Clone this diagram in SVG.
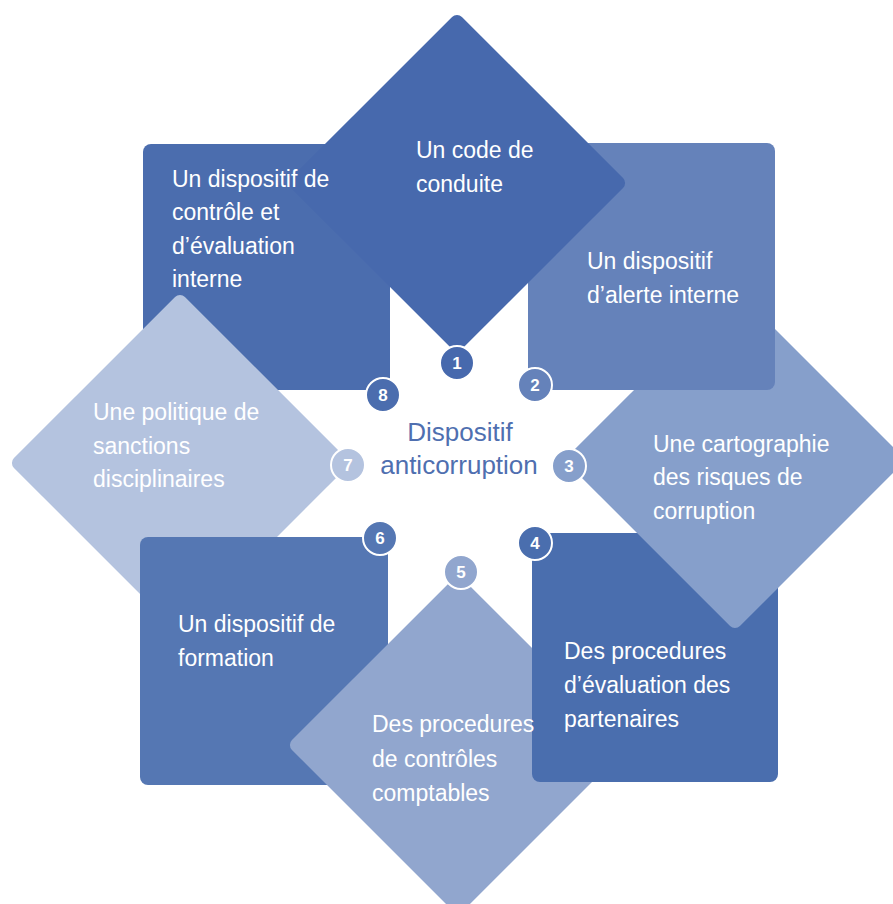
<svg xmlns="http://www.w3.org/2000/svg" width="893" height="904" viewBox="0 0 893 904">
<style>
.lbl{font-family:"Liberation Sans",Arial,sans-serif;font-size:23px;fill:#ffffff}
.ctr{font-family:"Liberation Sans",Arial,sans-serif;font-size:26px;fill:#4f6fb0;text-anchor:middle}
.num{font-family:"Liberation Sans",Arial,sans-serif;font-size:17px;font-weight:bold;fill:#ffffff;text-anchor:middle}
.badge{stroke:#ffffff;stroke-width:2}
</style>
<defs>
<rect id="dia" x="-120.9" y="-120.9" width="241.8" height="241.8" rx="7"/>
</defs>
<rect width="893" height="904" fill="#ffffff"/>
<g id="shapes">
<g id="node-8"><rect x="143" y="144" width="247" height="246" rx="8" fill="#4b6dae"/></g>
<g id="node-7"><use href="#dia" transform="translate(180,463) rotate(45)" fill="#b4c3df"/></g>
<g id="node-6"><rect x="140" y="537" width="248" height="248" rx="8" fill="#5577b3"/></g>
<g id="node-5"><use href="#dia" transform="translate(458,745) rotate(45)" fill="#91a6ce"/></g>
<g id="node-4"><rect x="532" y="533" width="246" height="249" rx="8" fill="#4a6eae"/></g>
<g id="node-3"><use href="#dia" transform="translate(735,460) rotate(45)" fill="#869fcb"/></g>
<g id="node-2"><rect x="528" y="143" width="247" height="247" rx="8" fill="#6582ba"/></g>
<g id="node-1"><use href="#dia" transform="translate(457,183) rotate(45)" fill="#4769ad"/></g>
</g>
<g id="labels">
<g id="label-1"><text class="lbl" x="416" y="158">Un code de</text><text class="lbl" x="416" y="192">conduite</text></g>
<g id="label-2"><text class="lbl" x="587" y="269">Un dispositif</text><text class="lbl" x="587" y="303">d’alerte interne</text></g>
<g id="label-3"><text class="lbl" x="653" y="452">Une cartographie</text><text class="lbl" x="653" y="485">des risques de</text><text class="lbl" x="653" y="519">corruption</text></g>
<g id="label-4"><text class="lbl" x="564" y="659">Des procedures</text><text class="lbl" x="564" y="693">d’évaluation des</text><text class="lbl" x="564" y="727">partenaires</text></g>
<g id="label-5"><text class="lbl" x="372" y="732">Des procedures</text><text class="lbl" x="372" y="767">de contrôles</text><text class="lbl" x="372" y="801">comptables</text></g>
<g id="label-6"><text class="lbl" x="178" y="632">Un dispositif de</text><text class="lbl" x="178" y="666">formation</text></g>
<g id="label-7"><text class="lbl" x="93" y="420">Une politique de</text><text class="lbl" x="93" y="454">sanctions</text><text class="lbl" x="93" y="487">disciplinaires</text></g>
<g id="label-8"><text class="lbl" x="172" y="187">Un dispositif de</text><text class="lbl" x="172" y="220">contrôle et</text><text class="lbl" x="172" y="254">d’évaluation</text><text class="lbl" x="172" y="287">interne</text></g>
</g>
<g id="center"><text class="ctr" x="460" y="441">Dispositif</text><text class="ctr" x="459" y="474">anticorruption</text></g>
<g id="badges">
<g id="badge-1"><circle class="badge" cx="457" cy="363" r="17" fill="#4769ad"/><text class="num" x="457" y="369">1</text></g>
<g id="badge-2"><circle class="badge" cx="535" cy="385" r="17" fill="#6582ba"/><text class="num" x="535" y="391">2</text></g>
<g id="badge-3"><circle class="badge" cx="569" cy="466" r="17" fill="#869fcb"/><text class="num" x="569" y="472">3</text></g>
<g id="badge-4"><circle class="badge" cx="535" cy="543" r="17" fill="#4a6eae"/><text class="num" x="535" y="549">4</text></g>
<g id="badge-5"><circle class="badge" cx="461" cy="572" r="17" fill="#91a6ce"/><text class="num" x="461" y="578">5</text></g>
<g id="badge-6"><circle class="badge" cx="380" cy="538" r="17" fill="#5577b3"/><text class="num" x="380" y="544">6</text></g>
<g id="badge-7"><circle class="badge" cx="348" cy="465" r="17" fill="#b4c3df"/><text class="num" x="348" y="471">7</text></g>
<g id="badge-8"><circle class="badge" cx="383" cy="395" r="17" fill="#4b6dae"/><text class="num" x="383" y="401">8</text></g>
</g>
</svg>
